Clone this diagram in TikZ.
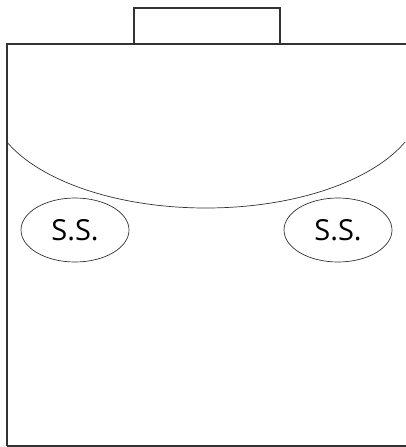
\documentclass[tikz,border=0pt]{standalone}
\usepackage{fontspec}
\setmainfont{Open Sans}
\usepackage{pgf,tikz}
\usetikzlibrary{shapes, positioning}
\tikzstyle{pared} = [draw=black!80, line width=1.1pt]
\tikzstyle{curva} = [draw=black!80, line width=0.7pt]
\tikzstyle{ss} = [draw=black!80, line width=0.7pt, ellipse, minimum width=108pt, minimum height=64pt, inner sep=0pt, font=\fontsize{29}{29}\selectfont]

\begin{document}
\begin{tikzpicture}[x=1pt, y=-1pt]
	\useasboundingbox (0,0) rectangle (406,447);
	% recinto y pieza superior
	\draw[pared] (7,446) -- (7,44) -- (412,44);
	\draw[pared] (7,446) -- (412,446);
	\draw[pared] (134,44) rectangle (280,8);
	% curva interior
	\begin{scope}
		\clip (7,142) rectangle (406,447);
		\draw[curva] (206,100) ellipse [x radius=216, y radius=108];
	\end{scope}
	\node[ss] (ssizq) at (75,230) {S.S.};
	\node[ss] (ssder) at (338,230) {S.S.};
\end{tikzpicture}
\end{document}
